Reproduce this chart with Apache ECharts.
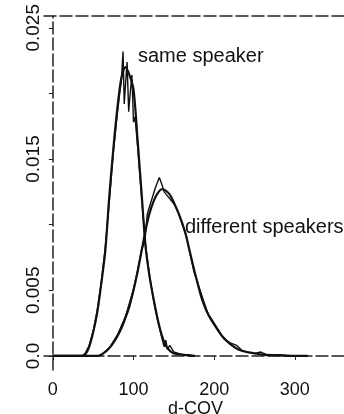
<!DOCTYPE html>
<html>
<head>
<meta charset="utf-8">
<script src="https://cdn.jsdelivr.net/npm/echarts@6/dist/echarts.min.js"></script>
<style>
html, body { margin: 0; padding: 0; background: #fff; }
#main { width: 344px; height: 414px; }
</style>
</head>
<body>
<div id="main"></div>
<script>
// d-COV distributions, same vs different speakers
var xTicks = [0, 100, 200, 300];
var yTicks = [0, 0.005, 0.01, 0.015, 0.02, 0.025];
var yLabels = [0, 0.005, 0.015, 0.025];

// same speaker: fitted density
var sameFitX = [0, 35, 40, 45, 50, 55, 60, 65, 70, 75, 80, 85, 90, 95, 100, 105, 110, 115, 120, 125, 130, 135, 140, 145, 150, 160, 176];
var sameFitY = [0, 0, 0.0001, 0.0007, 0.0018, 0.0033, 0.0055, 0.0080, 0.0122, 0.0158, 0.0189, 0.0212, 0.0220, 0.0214, 0.0203, 0.0165, 0.0124, 0.0083, 0.0060, 0.0043, 0.0028, 0.0016, 0.0008, 0.0004, 0.0002, 0.0001, 0];
// same speaker: empirical
var sameEmpX = [0, 36, 40, 45, 50, 55, 60, 65, 70, 75, 80, 83, 85, 87, 88.5, 90, 92, 94, 96, 98, 100, 102, 105, 110, 115, 120, 125, 130, 135, 138, 140, 142, 145, 150, 160, 168, 176];
var sameEmpY = [0, 0, 0.0002, 0.0008, 0.0019, 0.0035, 0.0056, 0.0083, 0.0118, 0.0155, 0.0185, 0.0201, 0.0210, 0.0232, 0.0192, 0.0206, 0.0224, 0.0186, 0.0201, 0.0214, 0.0178, 0.0182, 0.0160, 0.0121, 0.0084, 0.0061, 0.0042, 0.0027, 0.0014, 0.0007, 0.0012, 0.0005, 0.0008, 0.0003, 0.0001, 0.0001, 0];

// different speakers: fitted density
var diffFitX = [0, 55, 60, 65, 70, 75, 80, 85, 90, 95, 100, 105, 110, 115, 120, 125, 130, 135, 140, 145, 150, 155, 160, 165, 170, 175, 180, 185, 190, 195, 200, 210, 220, 230, 240, 250, 260, 280, 300, 316];
var diffFitY = [0, 0, 0.0001, 0.0003, 0.0006, 0.0010, 0.0015, 0.0021, 0.0029, 0.0038, 0.0050, 0.0064, 0.0080, 0.0096, 0.0109, 0.0118, 0.0124, 0.0127, 0.0126, 0.0123, 0.0117, 0.0110, 0.0102, 0.0092, 0.0079, 0.0066, 0.0054, 0.0043, 0.0035, 0.0029, 0.0024, 0.0015, 0.0009, 0.0005, 0.0003, 0.0002, 0.0001, 0.00005, 0, 0];
// different speakers: empirical
var diffEmpX = [0, 56, 60, 70, 80, 90, 100, 105, 110, 114, 117, 122, 127, 132, 135, 138, 142, 146, 150, 155, 160, 165, 170, 175, 178, 182, 188, 193, 198, 205, 212, 220, 228, 235, 242, 250, 258, 265, 280, 300, 316];
var diffEmpY = [0, 0, 0.0001, 0.0006, 0.0016, 0.0030, 0.0051, 0.0065, 0.0081, 0.0087, 0.0108, 0.0118, 0.0128, 0.0136, 0.0131, 0.0125, 0.0122, 0.0119, 0.0116, 0.0110, 0.0101, 0.0093, 0.0078, 0.0064, 0.0059, 0.0051, 0.0040, 0.0031, 0.0027, 0.0020, 0.0013, 0.0010, 0.0008, 0.0004, 0.0003, 0.0002, 0.0003, 0.0001, 0.0001, 0, 0];

function pairs(xs, ys) {
    return xs.map(function (x, i) { return [x, ys[i]]; });
}

var font = '"Liberation Sans", Arial, sans-serif';
var ink = '#111';
var frame = { color: '#222', width: 1.5, type: [12, 4] };

var myChart = echarts.init(document.getElementById('main'));

option = {
    animation: false,
    grid: { left: 44, top: 16, bottom: 44, right: 0 },
    xAxis: [{
        type: 'value',
        min: -11,
        max: 361,
        splitLine: { show: false },
        axisLine: { lineStyle: frame },
        axisTick: { show: true, length: 4, customValues: xTicks, lineStyle: { color: '#222' } },
        axisLabel: { customValues: xTicks, margin: 11, fontSize: 18, fontFamily: font, color: ink }
    }, {
        type: 'value',
        position: 'top',
        min: -11,
        max: 361,
        splitLine: { show: false },
        axisLine: { lineStyle: frame },
        axisTick: { show: false },
        axisLabel: { show: false }
    }],
    yAxis: {
        type: 'value',
        min: -0.00107,
        max: 0.0259,
        splitLine: { show: false },
        axisLine: { show: true, lineStyle: frame },
        axisTick: { show: true, length: 4, customValues: yTicks, lineStyle: { color: '#222' } },
        axisLabel: {
            customValues: yLabels,
            rotate: 90,
            margin: 1,
            fontSize: 19,
            fontFamily: font,
            color: ink,
            formatter: function (v) { return v === 0 ? '0.0' : String(v); }
        }
    },
    series: [
        { type: 'line', data: pairs(sameFitX, sameFitY), symbol: 'none', smooth: 0.3, lineStyle: { color: ink, width: 2.2 } },
        { type: 'line', data: pairs(sameEmpX, sameEmpY), symbol: 'none', lineStyle: { color: ink, width: 1.4 } },
        { type: 'line', data: pairs(diffFitX, diffFitY), symbol: 'none', smooth: 0.3, lineStyle: { color: ink, width: 2.2 } },
        { type: 'line', data: pairs(diffEmpX, diffEmpY), symbol: 'none', lineStyle: { color: ink, width: 1.4 } }
    ],
    graphic: [
        { type: 'text', left: 138, top: 46, style: { text: 'same speaker', fontSize: 20, fontFamily: font, fill: ink } },
        { type: 'text', left: 185, top: 217, style: { text: 'different speakers', fontSize: 20, fontFamily: font, fill: ink } },
        { type: 'text', left: 168, top: 400, style: { text: 'd-COV', fontSize: 18, fontFamily: font, fill: ink } }
    ]
};

myChart.setOption(option);
</script>
</body>
</html>
